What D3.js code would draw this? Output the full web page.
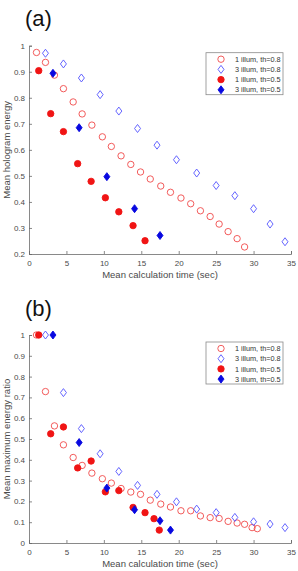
<!DOCTYPE html>
<html>
<head>
<meta charset="utf-8">
<script src="https://cdn.jsdelivr.net/npm/d3@7"></script>
<style>
  body { margin: 0; background: #fff; }
  svg { display: block; font-family: "Liberation Sans", Arial, sans-serif; }
</style>
</head>
<body>
<svg id="chart" width="298" height="571"></svg>
<script>
// x values (mean calculation time, sec) per series
const timeOneHigh = [1.0, 2.2, 3.4, 4.6, 5.9, 7.1, 8.4, 9.8, 11.0, 12.3, 13.6, 14.9, 16.2, 17.6, 18.9, 20.3, 21.6, 22.9, 24.2, 25.4, 26.6, 27.8, 28.8, 29.8, 30.5];
const timeThreeHigh = [2.2, 4.6, 7.0, 9.5, 12.0, 14.5, 17.1, 19.7, 22.4, 25.0, 27.5, 30.0, 32.2, 34.2];
const timeOneLow = [1.3, 2.9, 4.6, 6.5, 8.3, 10.2, 12.0, 13.9, 15.5, 16.7, 17.4];
const timeThreeLow = [3.2, 6.7, 10.4, 14.1, 17.5, 18.9];

// (a) mean hologram energy (points below 0.2 fall outside the axes)
const energyOneHigh = [0.974, 0.936, 0.887, 0.835, 0.784, 0.738, 0.695, 0.650, 0.613, 0.577, 0.544, 0.515, 0.488, 0.461, 0.437, 0.415, 0.393, 0.366, 0.344, 0.315, 0.286, 0.259, 0.227];
const energyThreeHigh = [0.971, 0.930, 0.876, 0.812, 0.749, 0.682, 0.618, 0.562, 0.511, 0.463, 0.424, 0.374, 0.315, 0.247];
const energyOneLow = [0.904, 0.739, 0.670, 0.547, 0.479, 0.416, 0.362, 0.309, 0.251];
const energyThreeLow = [0.894, 0.685, 0.497, 0.374, 0.271];

// (b) mean maximum energy ratio
const ratioOneHigh = [1.0, 0.728, 0.563, 0.472, 0.411, 0.373, 0.336, 0.309, 0.288, 0.262, 0.245, 0.234, 0.206, 0.187, 0.173, 0.155, 0.155, 0.130, 0.122, 0.118, 0.104, 0.096, 0.090, 0.074, 0.069];
const ratioThreeHigh = [1.0, 0.723, 0.550, 0.429, 0.344, 0.277, 0.234, 0.198, 0.163, 0.146, 0.123, 0.102, 0.091, 0.074];
const ratioOneLow = [1.0, 0.525, 0.558, 0.361, 0.394, 0.246, 0.252, 0.171, 0.146, 0.117, 0.062];
const ratioThreeLow = [1.0, 0.483, 0.264, 0.160, 0.107, 0.062];

const seriesNames = ['1 illum, th=0.8', '3 illum, th=0.8', '1 illum, th=0.5', '3 illum, th=0.5'];
const xTicks = [0, 5, 10, 15, 20, 25, 30, 35];

const styles = [
  { shape: 'circle', fill: 'none', stroke: '#f04a4a' },
  { shape: 'diamond', fill: 'none', stroke: '#5454ff' },
  { shape: 'circle', fill: '#f01414', stroke: '#f01414' },
  { shape: 'diamond', fill: '#0808e0', stroke: '#0808e0' },
];

const svg = d3.select('#chart');
const axisColor = '#6b6b6b';
const textColor = '#4a4a4a';

function zip(xs, ys) {
  return ys.map((y, i) => ({ x: xs[i], y: y }));
}

function drawMarker(g, st, x, y) {
  if (st.shape === 'circle') {
    g.append('circle').attr('cx', x).attr('cy', y).attr('r', 3.2)
      .attr('fill', st.fill).attr('stroke', st.stroke).attr('stroke-width', 0.9);
  } else {
    g.append('path')
      .attr('d', `M${x},${y - 4}L${x + 3},${y}L${x},${y + 4}L${x - 3},${y}Z`)
      .attr('fill', st.fill).attr('stroke', st.stroke).attr('stroke-width', 0.9);
  }
}

function drawPanel(cfg) {
  const x = d3.scaleLinear().domain([0, 35]).range([29, 291]);
  const y = d3.scaleLinear().domain(cfg.yDomain).range([cfg.bottom, cfg.top]);
  const g = svg.append('g');

  // panel letter
  g.append('text').attr('x', 25).attr('y', cfg.letterY)
    .attr('font-size', 22).attr('fill', '#111').text(cfg.letter);

  // axes (MATLAB-style, ticks pointing inward)
  const xAxis = g.append('g').attr('transform', `translate(0,${cfg.bottom})`)
    .call(d3.axisBottom(x).tickValues(xTicks).tickSize(-3).tickPadding(6).tickFormat(d3.format('d')));
  const yAxis = g.append('g').attr('transform', 'translate(29,0)')
    .call(d3.axisLeft(y).tickValues(cfg.yTicks).tickSize(-3).tickPadding(4).tickFormat(d => d === 0 || d === 1 ? d3.format('d')(d) : d3.format('.1f')(d)));
  [xAxis, yAxis].forEach(a => {
    a.select('.domain').attr('stroke', axisColor).attr('stroke-width', 0.8);
    a.selectAll('.tick line').attr('stroke', axisColor).attr('stroke-width', 0.8);
    a.selectAll('.tick text').attr('fill', textColor).attr('font-size', 8)
      .attr('font-family', '"Liberation Sans", Arial, sans-serif');
  });

  // axis titles
  g.append('text').attr('x', 160).attr('y', cfg.bottom + 24)
    .attr('text-anchor', 'middle').attr('font-size', 9.5).attr('fill', textColor)
    .text('Mean calculation time (sec)');
  g.append('text')
    .attr('transform', `translate(10,${(cfg.top + cfg.bottom) / 2}) rotate(-90)`)
    .attr('text-anchor', 'middle').attr('font-size', 9.5).attr('fill', textColor)
    .text(cfg.yLabel);

  // markers
  cfg.series.forEach((pts, i) => {
    pts.forEach(p => drawMarker(g, styles[i], x(p.x), y(p.y)));
  });

  // legend
  const lg = g.append('g');
  const lx = 206, ly = cfg.top + 7;
  lg.append('rect').attr('x', lx).attr('y', ly).attr('width', 77).attr('height', 42)
    .attr('fill', '#fff').attr('stroke', '#8a8a8a').attr('stroke-width', 0.8);
  seriesNames.forEach((name, i) => {
    const ry = ly + 6.5 + i * 10.2;
    drawMarker(lg, styles[i], lx + 15, ry);
    lg.append('text').attr('x', lx + 29).attr('y', ry + 2.6)
      .attr('font-size', 7.3).attr('fill', '#333').text(name);
  });
}

drawPanel({
  letter: '(a)', letterY: 26,
  top: 45.7, bottom: 254,
  yDomain: [0.2, 1],
  yTicks: [0.2, 0.3, 0.4, 0.5, 0.6, 0.7, 0.8, 0.9, 1],
  yLabel: 'Mean hologram energy',
  series: [
    zip(timeOneHigh, energyOneHigh),
    zip(timeThreeHigh, energyThreeHigh),
    zip(timeOneLow, energyOneLow),
    zip(timeThreeLow, energyThreeLow),
  ],
});

drawPanel({
  letter: '(b)', letterY: 316,
  top: 335, bottom: 543,
  yDomain: [0, 1],
  yTicks: [0, 0.1, 0.2, 0.3, 0.4, 0.5, 0.6, 0.7, 0.8, 0.9, 1],
  yLabel: 'Mean maximum energy ratio',
  series: [
    zip(timeOneHigh, ratioOneHigh),
    zip(timeThreeHigh, ratioThreeHigh),
    zip(timeOneLow, ratioOneLow),
    zip(timeThreeLow, ratioThreeLow),
  ],
});
</script>
</body>
</html>
